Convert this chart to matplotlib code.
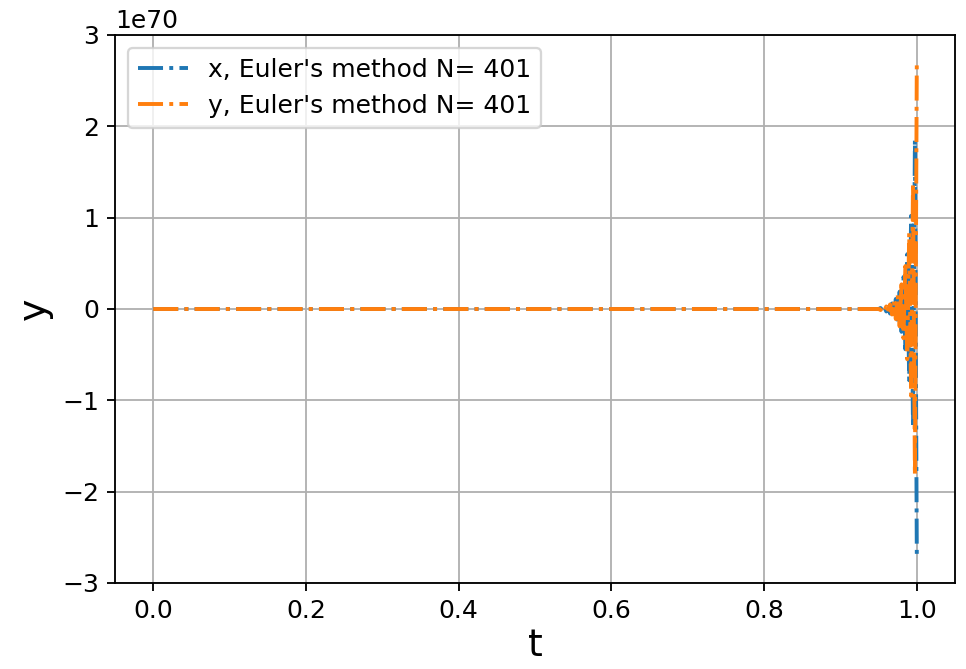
import numpy as np
import matplotlib
matplotlib.use("Agg")
import matplotlib.pyplot as plt

# Data (values in units of 1e70)
N = 401
t = np.linspace(0.0, 1.0, N)

x_tail = [0.011, -0.015, 0.02, -0.027, 0.035, -0.05, 0.06, -0.08, 0.11, -0.15,
          0.19, -0.25, 0.35, -0.44, 0.60, -0.78, 1.02, -1.30, 1.85, -2.72]
y_tail = [-0.011, 0.016, -0.02, 0.028, -0.035, 0.05, -0.06, 0.085, -0.11, 0.15,
          -0.19, 0.27, -0.32, 0.47, -0.55, 0.83, -0.95, 1.38, -1.82, 2.73]

x_head = [0.0] * (N - len(x_tail))
y_head = [0.0] * (N - len(y_tail))

x_vals = np.array(x_head + x_tail) * 1e70
y_vals = np.array(y_head + y_tail) * 1e70

labels = ["x, Euler's method N= 401", "y, Euler's method N= 401"]

plt.rcParams['font.size'] = 10.9

dpi = 165.6
fig = plt.figure(figsize=(966 / dpi, 669 / dpi), dpi=dpi)
ax = fig.add_axes([115 / 966, 86 / 669, 840 / 966, 548 / 669])

ax.plot(t, x_vals, '-.', label=labels[0], color='#1f77b4', lw=1.7)
ax.plot(t, y_vals, '-.', label=labels[1], color='#ff7f0e', lw=1.7)

ax.set_ylim(-3e70, 3e70)
ax.set_xlabel('t', fontsize=16.5, labelpad=2)
ax.set_ylabel('y', fontsize=16.5)
ax.grid(True)
ax.legend(loc='upper left')

fig.savefig('out.png', dpi=dpi)
